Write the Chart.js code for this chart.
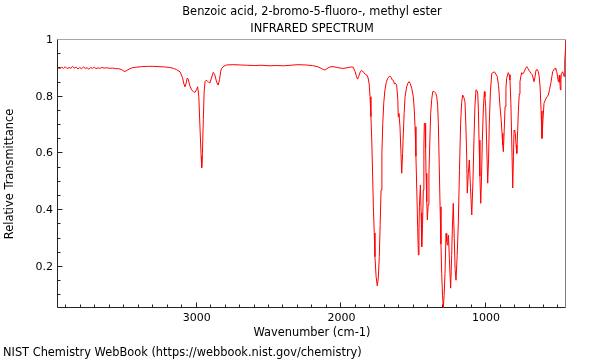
<!DOCTYPE html>
<html>
<head>
<meta charset="utf-8">
<title>Benzoic acid, 2-bromo-5-fluoro-, methyl ester - IR spectrum</title>
<script src="https://cdn.jsdelivr.net/npm/chart.js@4.4.1/dist/chart.umd.min.js"></script>
<style>
  body { margin: 0; background: #fff; }
  canvas { display: block; }
</style>
</head>
<body>
<canvas id="spectrumChart" width="600" height="360"></canvas>
<script>
// Texts of the chart
var titleLines = ['Benzoic acid, 2-bromo-5-fluoro-, methyl ester', 'INFRARED SPECTRUM'];
var xAxisTitle = 'Wavenumber (cm-1)';
var yAxisTitle = 'Relative Transmittance';
var sourceNote = 'NIST Chemistry WebBook (https://webbook.nist.gov/chemistry)';

// Labelled ticks
var xTickValues = [1000, 2000, 3000];
var yTickValues = [0.2, 0.4, 0.6, 0.8, 1];

// Spectrum (cm-1 / relative transmittance)
var wavenumbers = [
  3958, 3945, 3932, 3920, 3908, 3895, 3882, 3870, 3858, 3845,
  3832, 3820, 3808, 3795, 3782, 3770, 3757, 3745, 3732, 3720,
  3707, 3695, 3682, 3670, 3655, 3640, 3620, 3600, 3580, 3560,
  3540, 3520, 3505, 3495, 3482, 3465, 3445, 3420, 3380, 3340,
  3300, 3260, 3220, 3185, 3160, 3140, 3115, 3098, 3088, 3081,
  3074, 3065, 3058, 3048, 3035, 3022, 3012, 3000, 2993, 2985,
  2976, 2969, 2965, 2960, 2954, 2948, 2942, 2935, 2927, 2916,
  2908, 2898, 2885, 2875, 2862, 2851, 2842, 2834, 2827, 2810,
  2793, 2750, 2700, 2650, 2600, 2550, 2500, 2450, 2400, 2350,
  2300, 2250, 2200, 2160, 2140, 2125, 2113, 2100, 2080, 2058,
  2035, 2010, 1989, 1960, 1935, 1918, 1905, 1895, 1888, 1880,
  1868, 1860, 1845, 1835, 1825, 1815, 1808, 1802, 1796, 1790,
  1784, 1779, 1773, 1768, 1760, 1752, 1745, 1738, 1732, 1726,
  1720, 1714, 1707, 1699, 1690, 1680, 1670, 1664, 1656, 1648,
  1640, 1634, 1628, 1618, 1610, 1607, 1602, 1595, 1589, 1583,
  1577, 1572, 1566, 1560, 1549, 1540, 1533, 1524, 1514, 1503,
  1497, 1491, 1485, 1479, 1473, 1468, 1464, 1461, 1454, 1449,
  1445, 1439, 1434, 1430, 1427, 1422, 1418, 1415, 1410, 1406,
  1400, 1395, 1389, 1383, 1376, 1369, 1358, 1348, 1341, 1335,
  1330, 1324, 1318, 1312, 1307, 1301, 1296, 1290, 1284, 1277,
  1272, 1268, 1264, 1260, 1254, 1245, 1238, 1233, 1227, 1220,
  1214, 1208, 1200, 1192, 1184, 1176, 1169, 1162, 1154, 1146,
  1140, 1134, 1130, 1123, 1116, 1108, 1099, 1091, 1084, 1077,
  1070, 1064, 1058, 1053, 1049, 1043, 1037, 1032, 1026, 1019,
  1012, 1008, 1003, 996, 989, 983, 978, 970, 961, 952,
  943, 933, 923, 914, 904, 896, 890, 885, 881, 875,
  869, 863, 858, 847, 841, 835, 829, 823, 816, 811,
  807, 802, 798, 793, 788, 782, 777, 771, 766, 760,
  754, 748, 743, 735, 727, 719, 712, 705, 697, 689,
  681, 675, 669, 662, 655, 647, 639, 633, 627, 620,
  614, 607, 600, 593, 586, 578, 570, 562, 553, 546,
  540, 532, 524, 518, 512, 506, 501, 497, 494, 490,
  487, 483, 480, 475, 471, 466, 461, 458, 455, 451,
  448
];
var transmittance = [
  0.902, 0.899, 0.904, 0.900, 0.906, 0.899, 0.903, 0.900, 0.907, 0.901,
  0.904, 0.898, 0.903, 0.899, 0.905, 0.900, 0.902, 0.897, 0.903, 0.900,
  0.904, 0.899, 0.902, 0.900, 0.903, 0.901, 0.902, 0.900, 0.901, 0.899,
  0.899, 0.896, 0.891, 0.889, 0.893, 0.898, 0.902, 0.904, 0.906, 0.907,
  0.907, 0.906, 0.905, 0.903, 0.900, 0.896, 0.888, 0.868, 0.845, 0.835,
  0.845, 0.866, 0.862, 0.840, 0.824, 0.818, 0.815, 0.826, 0.835, 0.800,
  0.680, 0.590, 0.550, 0.600, 0.720, 0.820, 0.853, 0.858, 0.856, 0.850,
  0.849, 0.866, 0.886, 0.878, 0.852, 0.841, 0.860, 0.890, 0.900, 0.908,
  0.912, 0.913, 0.912, 0.911, 0.910, 0.911, 0.909, 0.910, 0.909, 0.911,
  0.913, 0.912, 0.910, 0.905, 0.900, 0.896, 0.894, 0.899, 0.905, 0.906,
  0.904, 0.901, 0.900, 0.902, 0.905, 0.904, 0.888, 0.870, 0.862, 0.872,
  0.890, 0.892, 0.886, 0.879, 0.877, 0.866, 0.845, 0.800, 0.730, 0.647,
  0.520, 0.412, 0.320, 0.236, 0.165, 0.133, 0.160, 0.236, 0.350, 0.471,
  0.600, 0.706, 0.780, 0.824, 0.850, 0.865, 0.871, 0.873, 0.868, 0.859,
  0.857, 0.845, 0.848, 0.841, 0.790, 0.729, 0.741, 0.694, 0.610, 0.530,
  0.600, 0.671, 0.745, 0.800, 0.835, 0.848, 0.853, 0.846, 0.830, 0.800,
  0.760, 0.694, 0.590, 0.471, 0.340, 0.242, 0.330, 0.412, 0.489, 0.390,
  0.271, 0.350, 0.471, 0.620, 0.706, 0.706, 0.620, 0.530, 0.430, 0.365,
  0.420, 0.530, 0.640, 0.741, 0.790, 0.818, 0.818, 0.812, 0.800, 0.770,
  0.706, 0.560, 0.412, 0.280, 0.177, 0.100, 0.055, 0.100, 0.177, 0.318,
  0.290, 0.277, 0.300, 0.312, 0.230, 0.125, 0.240, 0.340, 0.424, 0.300,
  0.190, 0.153, 0.240, 0.354, 0.540, 0.706, 0.780, 0.806, 0.798, 0.782,
  0.700, 0.588, 0.460, 0.530, 0.577, 0.480, 0.383, 0.500, 0.647, 0.770,
  0.824, 0.822, 0.812, 0.750, 0.647, 0.520, 0.424, 0.510, 0.647, 0.760,
  0.818, 0.800, 0.765, 0.630, 0.495, 0.580, 0.706, 0.820, 0.882, 0.885,
  0.888, 0.880, 0.871, 0.840, 0.765, 0.720, 0.671, 0.630, 0.606, 0.680,
  0.765, 0.830, 0.865, 0.885, 0.878, 0.859, 0.780, 0.647, 0.478, 0.590,
  0.682, 0.680, 0.670, 0.630, 0.600, 0.680, 0.753, 0.810, 0.853, 0.872,
  0.885, 0.880, 0.882, 0.890, 0.900, 0.906, 0.900, 0.894, 0.888, 0.882,
  0.877, 0.866, 0.853, 0.870, 0.894, 0.896, 0.888, 0.870, 0.835, 0.750,
  0.653, 0.720, 0.777, 0.786, 0.794, 0.800, 0.806, 0.825, 0.847, 0.870,
  0.888, 0.895, 0.900, 0.896, 0.888, 0.870, 0.853, 0.866, 0.876, 0.850,
  0.824, 0.860, 0.882, 0.886, 0.888, 0.880, 0.871, 0.900, 0.929, 0.970,
  1.000
];

var textFont = { family: 'DejaVu Sans', size: 11.4, weight: 'normal', lineHeight: 1.2 };
var tickFont = { family: 'DejaVu Sans', size: 11, weight: 'normal', lineHeight: 1.2 };

// Cadre du graphique et petites graduations tournées vers l'intérieur
var frameTicks = {
  id: 'frameTicks',
  beforeDatasetsDraw: function (chart) {
    var ctx = chart.ctx;
    var a = chart.chartArea;
    var x = chart.scales.x;
    var y = chart.scales.y;
    var left = a.left - 0.5, right = a.right - 0.5, top = a.top - 0.5, bottom = a.bottom - 0.5;

    ctx.save();
    ctx.lineWidth = 1;

    ctx.strokeStyle = '#a6a6a6';
    ctx.beginPath();
    ctx.moveTo(left, top);
    ctx.lineTo(right, top);
    ctx.stroke();
    ctx.strokeStyle = '#808080';
    ctx.beginPath();
    ctx.moveTo(right, top);
    ctx.lineTo(right, bottom);
    ctx.stroke();

    ctx.strokeStyle = '#222';
    ctx.beginPath();
    ctx.moveTo(left, top);
    ctx.lineTo(left, bottom);
    ctx.lineTo(right, bottom);
    ctx.stroke();

    ctx.beginPath();
    for (var w = 500; w <= 3900; w += 100) {
      var px = Math.round(x.getPixelForValue(w)) - 0.5;
      var len = (w % 1000 === 0) ? 5 : 3;
      ctx.moveTo(px, bottom);
      ctx.lineTo(px, bottom - len);
    }
    for (var k = 2; k <= 19; k++) {
      var v = k * 0.05;
      var py = Math.round(y.getPixelForValue(v)) - 0.5;
      var ylen = (k % 4 === 0) ? 5 : 3;
      ctx.moveTo(left, py);
      ctx.lineTo(left + ylen, py);
    }
    ctx.stroke();
    ctx.restore();
  },
  afterDraw: function (chart) {
    var ctx = chart.ctx;
    ctx.save();
    ctx.fillStyle = '#000';
    ctx.font = '11.4px "DejaVu Sans"';
    ctx.textAlign = 'left';
    ctx.textBaseline = 'middle';
    ctx.fillText(sourceNote, 3, 353);
    ctx.restore();
  }
};

var spectrumChart = new Chart(document.getElementById('spectrumChart').getContext('2d'), {
  type: 'line',
  data: {
    datasets: [{
      label: 'IR',
      data: wavenumbers.map(function (w, i) { return { x: w, y: transmittance[i] }; }),
      borderColor: '#ff0000',
      borderWidth: 1,
      pointRadius: 0,
      fill: false,
      tension: 0
    }]
  },
  options: {
    responsive: false,
    animation: false,
    devicePixelRatio: 1,
    layout: { padding: { left: 0, right: 34, top: 0, bottom: 20 } },
    plugins: {
      legend: { display: false },
      tooltip: { enabled: false },
      title: {
        display: true,
        text: titleLines,
        fullSize: false,
        color: '#000',
        font: { family: 'DejaVu Sans', size: 11.4, weight: 'normal', lineHeight: 1.45 },
        padding: { top: 4.2, bottom: 2.74 }
      }
    },
    scales: {
      x: {
        type: 'linear',
        reverse: true,
        min: 448,
        max: 3958,
        grid: { display: false, drawTicks: false },
        border: { display: false },
        afterBuildTicks: function (scale) {
          scale.ticks = xTickValues.map(function (v) { return { value: v }; });
        },
        afterFit: function (scale) { scale.height = 32; },
        ticks: {
          padding: 4,
          color: '#000',
          font: tickFont,
          maxRotation: 0,
          autoSkip: false,
          callback: function (v) { return String(v); }
        },
        title: { display: true, text: xAxisTitle, color: '#000', font: textFont, padding: { top: 0, bottom: 0 } }
      },
      y: {
        min: 0.055,
        max: 1,
        grid: { display: false, drawTicks: false },
        border: { display: false },
        afterBuildTicks: function (scale) {
          scale.ticks = yTickValues.map(function (v) { return { value: v }; });
        },
        afterFit: function (scale) { scale.width = 58; },
        ticks: {
          padding: 5,
          color: '#000',
          font: tickFont,
          autoSkip: false,
          callback: function (v) { return String(v); }
        },
        title: { display: true, text: yAxisTitle, color: '#000', font: textFont, padding: { top: 3, bottom: 0 } }
      }
    }
  },
  plugins: [frameTicks]
});
</script>
</body>
</html>
